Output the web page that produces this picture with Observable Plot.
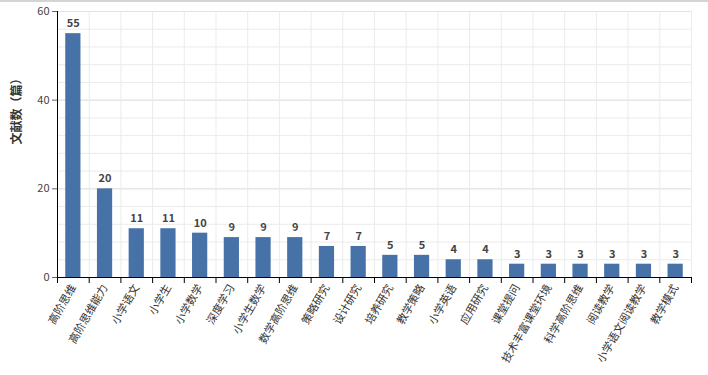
<!DOCTYPE html>
<html>
<head>
<meta charset="utf-8">
<script src="https://cdn.jsdelivr.net/npm/d3@7"></script>
<script src="https://cdn.jsdelivr.net/npm/@observablehq/plot@0.6"></script>
<style>
  html, body { margin: 0; padding: 0; background: #fff; }
  body { width: 708px; height: 375px; overflow: hidden; border-top: 2px solid #d4d4d4; box-sizing: border-box; }
  #chart svg { display: block; margin-top: -2px; }
</style>
</head>
<body>
<div id="chart"></div>
<script>
const categories = ["高阶思维","高阶思维能力","小学语文","小学生","小学数学","深度学习","小学生数学","数学高阶思维","策略研究","设计研究","培养研究","教学策略","小学英语","应用研究","课堂提问","技术丰富课堂环境","科学高阶思维","阅读教学","小学语文阅读教学","教学模式"];
const counts = [55,20,11,11,10,9,9,9,7,7,5,5,4,4,3,3,3,3,3,3];
const yTicks = [0,20,40,60];
const yTitle = "文献数（篇）";

const data = categories.map((c, i) => ({cat: c, i, value: counts[i]}));
const edges = d3.range(categories.length + 1);
const centers = d3.range(categories.length).map(i => i + 0.5);
const minor = d3.range(0, 61, 4);

const font = "'Noto Sans CJK SC', 'Noto Sans', sans-serif";

const chart = Plot.plot({
  width: 708,
  height: 375,
  marginLeft: 57,
  marginRight: 17,
  marginTop: 11,
  marginBottom: 98,
  style: {fontFamily: font, fontSize: "11px", color: "#333", background: "#fff"},
  x: {type: "linear", domain: [0, categories.length]},
  y: {domain: [0, 60]},
  marks: [
    Plot.ruleY(minor, {stroke: "#ebebeb", strokeWidth: 1}),
    Plot.ruleY(yTicks, {stroke: "#e2e2e2", strokeWidth: 1}),
    Plot.ruleX(edges, {stroke: "#ebebeb", strokeWidth: 1}),
    Plot.rectY(data, {x1: d => d.i + 0.26, x2: d => d.i + 0.74, y: "value", fill: "#4672a8"}),
    Plot.text(data, {x: d => d.i + 0.5, y: "value", text: d => String(d.value), dy: -10, fontWeight: "bold", fontSize: 11, fill: "#444"}),
    Plot.axisY({ticks: yTicks, tickSize: 5, stroke: "#666", tickPadding: 3, label: null, fontSize: 11, fill: "#444"}),
    Plot.ruleX([0], {stroke: "#000", strokeWidth: 1}),
    Plot.axisX({ticks: edges, tickSize: 6, stroke: "#000", tickFormat: () => "", label: null}),
    Plot.axisX({ticks: centers, tickSize: 0, tickRotate: -60, tickPadding: 8, tickFormat: v => categories[Math.round(v - 0.5)], label: null, fontSize: 11, fill: "#333"}),
    Plot.ruleY([0], {stroke: "#000", strokeWidth: 1}),
    Plot.text([yTitle], {frameAnchor: "left", dx: -40, rotate: -90, fontWeight: "bold", fontSize: 12, fill: "#333", text: d => d})
  ]
});
document.getElementById("chart").appendChild(chart);
</script>
</body>
</html>
